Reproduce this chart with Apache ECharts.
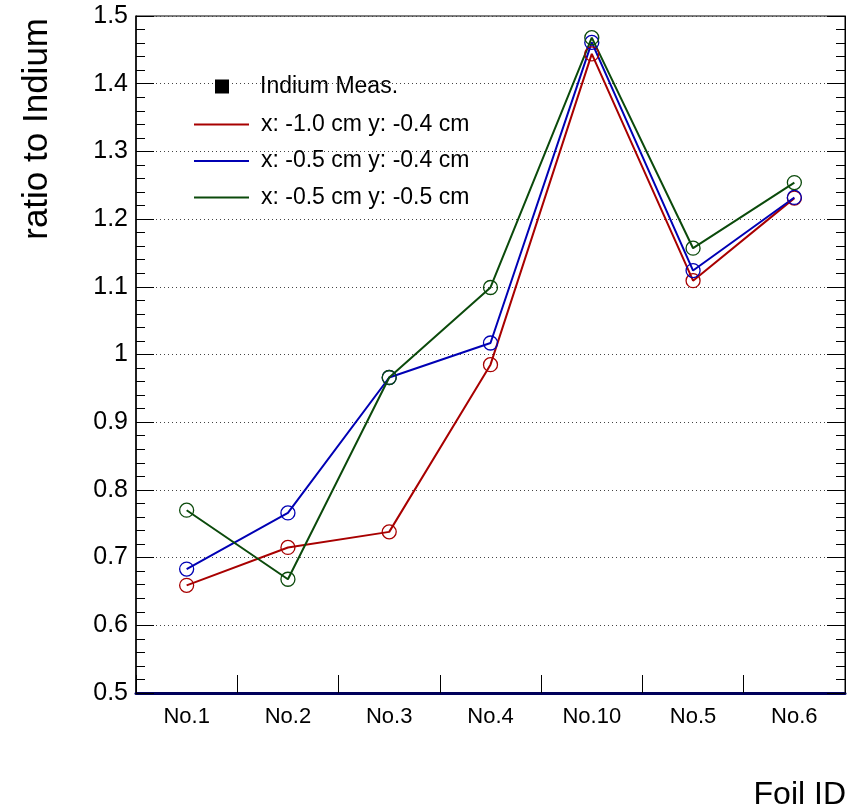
<!DOCTYPE html>
<html>
<head>
<meta charset="utf-8">
<script src="https://cdn.jsdelivr.net/npm/echarts@6/dist/echarts.min.js"></script>
<style>
  html, body { margin: 0; padding: 0; background: #fff; }
  #chart { width: 847px; height: 809px; }
</style>
</head>
<body>
<div id="chart"></div>
<script>
// Foil positions along the x axis
const foils = ['No.1', 'No.2', 'No.3', 'No.4', 'No.10', 'No.5', 'No.6'];

// Simulated activation ratio to the indium measurement, per beam offset
const ratioX10Y04 = [0.659, 0.715, 0.738, 0.985, 1.444, 1.109, 1.231];
const ratioX05Y04 = [0.683, 0.766, 0.966, 1.017, 1.461, 1.124, 1.232];
const ratioX05Y05 = [0.770, 0.668, 0.966, 1.099, 1.468, 1.157, 1.254];
// Indium reference points (none fall inside the plotted range)
const indiumMeas = [];

const seriesNames = ['x: -1.0 cm y: -0.4 cm', 'x: -0.5 cm y: -0.4 cm', 'x: -0.5 cm y: -0.5 cm'];
const seriesColors = ['#a80000', '#0000b4', '#0b4a0b'];

const FONT = '"Liberation Sans", Arial, Helvetica, sans-serif';

const chart = echarts.init(document.getElementById('chart'), null, { renderer: 'canvas' });

function ratioSeries(name, data, color) {
  return {
    name: name,
    type: 'line',
    data: data,
    symbol: 'circle',
    symbolSize: 14,
    showAllSymbol: true,
    lineStyle: { color: color, width: 2 },
    itemStyle: { color: 'rgba(0,0,0,0)', borderColor: color, borderWidth: 1.3 },
    emphasis: { disabled: true },
    z: 3
  };
}

const yTicks = {
  min: 0.5, max: 1.5, interval: 0.1
};

const option = {
  backgroundColor: '#ffffff',
  animation: false,
  grid: {
    left: 136, right: 2, top: 16, bottom: 116,
    show: true, borderColor: '#000', borderWidth: 1, backgroundColor: 'transparent'
  },
  xAxis: {
    type: 'category',
    data: foils,
    boundaryGap: true,
    axisLine: { show: true, lineStyle: { color: '#00005a', width: 3 } },
    axisTick: { show: true, inside: true, length: 18, alignWithLabel: false, lineStyle: { color: '#000', width: 1 } },
    axisLabel: { color: '#000', fontSize: 22, fontFamily: FONT, margin: 13 },
    splitLine: { show: false }
  },
  yAxis: [
    {
      type: 'value',
      min: yTicks.min, max: yTicks.max, interval: yTicks.interval,
      position: 'left',
      axisLine: { show: true, onZero: false, lineStyle: { color: '#000', width: 1.5 } },
      axisTick: { show: true, inside: true, length: 18, lineStyle: { color: '#000', width: 1 } },
      minorTick: { show: true, splitNumber: 5, length: 9, lineStyle: { color: '#000', width: 1 } },
      axisLabel: { color: '#000', fontSize: 25, fontFamily: FONT, margin: 8 },
      splitLine: { show: true, lineStyle: { color: '#444', width: 1, type: [1, 3] } }
    },
    {
      type: 'value',
      min: yTicks.min, max: yTicks.max, interval: yTicks.interval,
      position: 'right',
      axisLine: { show: true, onZero: false, lineStyle: { color: '#000', width: 1 } },
      axisTick: { show: true, inside: true, length: 18, lineStyle: { color: '#000', width: 1 } },
      minorTick: { show: true, splitNumber: 5, length: 9, lineStyle: { color: '#000', width: 1 } },
      axisLabel: { show: false },
      splitLine: { show: false }
    }
  ],
  legend: [
    {
      orient: 'vertical',
      left: 215, top: 75,
      padding: 0,
      itemWidth: 14, itemHeight: 14,
      selectedMode: false,
      textStyle: { color: '#000', fontSize: 23, fontFamily: FONT, padding: [0, 0, 0, 26] },
      data: [{ name: 'Indium Meas.', icon: 'rect', itemStyle: { color: '#000' } }]
    },
    {
      orient: 'vertical',
      left: 194, top: 113,
      padding: 0,
      itemWidth: 55, itemHeight: 2,
      itemGap: 13.5,
      selectedMode: false,
      textStyle: { color: '#000', fontSize: 23, fontFamily: FONT, padding: [0, 0, 0, 7] },
      data: seriesNames.map((n, i) => ({ name: n, icon: 'rect', itemStyle: { color: seriesColors[i], borderWidth: 0 } }))
    }
  ],
  graphic: [
    {
      type: 'text',
      x: 37, y: 18,
      rotation: Math.PI / 2,
      style: {
        text: 'ratio to Indium', fill: '#000', fontSize: 35, fontFamily: FONT,
        textAlign: 'right', textVerticalAlign: 'middle'
      }
    },
    {
      type: 'text',
      x: 846, y: 795,
      style: {
        text: 'Foil ID', fill: '#000', fontSize: 32, fontFamily: FONT,
        textAlign: 'right', textVerticalAlign: 'middle'
      }
    }
  ],
  series: [
    {
      name: 'Indium Meas.',
      type: 'line',
      data: indiumMeas,
      symbol: 'rect',
      symbolSize: 14,
      itemStyle: { color: '#000' },
      lineStyle: { width: 0 }
    },
    ratioSeries(seriesNames[0], ratioX10Y04, seriesColors[0]),
    ratioSeries(seriesNames[1], ratioX05Y04, seriesColors[1]),
    ratioSeries(seriesNames[2], ratioX05Y05, seriesColors[2])
  ]
};

chart.setOption(option);
</script>
</body>
</html>
